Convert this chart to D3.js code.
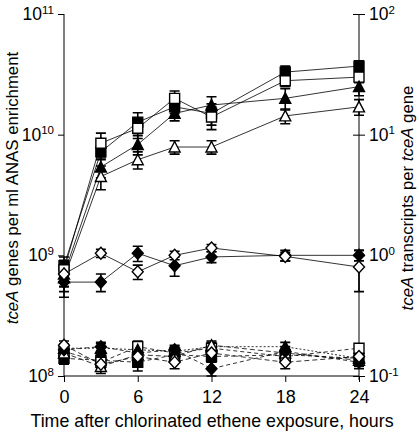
<!DOCTYPE html>
<html><head><meta charset="utf-8">
<script src="https://cdn.jsdelivr.net/npm/d3@7"></script>
<style>body{margin:0;background:#fff}svg{display:block}text{font-family:"Liberation Sans",Arial,sans-serif;fill:#000}</style>
</head><body><svg id="c" width="419" height="433"></svg>
<script>
// ---- data ----
const hours = [0, 3, 6, 9, 12, 18, 24];
const leftTicks = [1e8, 1e9, 1e10, 1e11];
const leftTickExp = ["8", "9", "10", "11"];
const rightTicks = [0.1, 1, 10, 100];
const rightTickExp = ["-1", "0", "1", "2"];
const xTicks = [0, 6, 12, 18, 24];

// tceA genes per ml (left axis)
const genesFilledSq  = [8.2e8, 7.2e9, 1.27e10, 1.7e10, 1.5e10, 3.3e10, 3.7e10];
const genesOpenSq    = [7.6e8, 8.5e9, 1.13e10, 2.0e10, 1.4e10, 2.8e10, 3.0e10];
const genesFilledTri = [7.0e8, 5.4e9, 8.3e9, 1.5e10, 1.76e10, 2.0e10, 2.5e10];
const genesOpenTri   = [6.5e8, 4.5e9, 6.2e9, 7.9e9, 7.9e9, 1.43e10, 1.7e10];
const errFilledSq  = [1.5e8, 1.0e9, 2.5e9, 2.0e9, 3.0e9, 4.0e9, 4.0e9];
const errOpenSq    = [1.5e8, 1.8e9, 2.0e9, 3.0e9, 3.0e9, 3.0e9, 3.0e9];
const errFilledTri = [1.5e8, 1.0e9, 1.5e9, 2.0e9, 3.0e9, 4.0e9, 4.0e9];
const errOpenTri   = [1.5e8, 1.0e9, 1.0e9, 1.0e9, 1.0e9, 2.0e9, 2.5e9];

// tceA transcripts per gene (right axis)
const transFilledDia = [0.60, 0.60, 1.04, 0.82, 0.97, 1.00, 1.00];
const transOpenDia   = [0.70, 1.04, 0.73, 1.00, 1.15, 0.98, 0.80];
const errFilledDia = [0.15, 0.10, 0.15, 0.15, 0.10, 0.10, 0.10];
const errOpenDia   = [0.15, 0.08, 0.10, 0.08, 0.08, 0.08, 0.30];

// controls (dashed, left axis)
const ctrlFilledSq  = [1.40e8, 1.35e8, 1.30e8, 1.50e8, 1.45e8, 1.50e8, 1.40e8];
const ctrlOpenSq    = [1.60e8, 1.30e8, 1.75e8, 1.55e8, 1.70e8, 1.45e8, 1.70e8];
const ctrlFilledTri = [1.70e8, 1.70e8, 1.65e8, 1.60e8, 1.75e8, 1.75e8, 1.40e8];
const ctrlOpenTri   = [1.55e8, 1.20e8, 1.50e8, 1.45e8, 1.80e8, 1.55e8, 1.35e8];
const ctrlFilledDia = [1.65e8, 1.75e8, 1.55e8, 1.65e8, 1.15e8, 1.60e8, 1.30e8];
const ctrlOpenDia   = [1.80e8, 1.25e8, 1.45e8, 1.30e8, 1.55e8, 1.30e8, 1.45e8];
const ctrlErr       = [1.5e7, 1.5e7, 2.0e7, 1.5e7, 1.5e7, 1.5e7, 1.5e7];

// ---- drawing ----
const svg = d3.select("#c");
const x = d3.scaleLinear().domain([0, 24]).range([64, 359]);
const yL = d3.scaleLog().domain([1e8, 1e11]).range([376, 14]);
const yR = d3.scaleLog().domain([0.1, 100]).range([376, 14]);

function supLabels(sel, exps) {
  sel.selectAll(".tick text").each(function(d, i) {
    const t = d3.select(this);
    t.text(null).style("font-size", "17.5px");
    t.append("tspan").text("10");
    t.append("tspan").attr("dy", "-0.55em").style("font-size", "11.5px").text(exps[i]);
  });
}

// left axis
const gL = svg.append("g").attr("transform", `translate(${x(0)},0)`)
  .call(d3.axisLeft(yL).tickValues(leftTicks).tickSize(6).tickPadding(4).tickFormat(() => ""));
gL.select(".domain").attr("d", `M0,${yL(1e11)}V${yL(1e8)}`);
supLabels(gL, leftTickExp);

// right axis
const gR = svg.append("g").attr("transform", `translate(${x(24)},0)`)
  .call(d3.axisRight(yR).tickValues(rightTicks).tickSize(6).tickPadding(4).tickFormat(() => ""));
gR.select(".domain").attr("d", `M0,${yR(100)}V${yR(0.1) + 4}`);
gR.selectAll(".tick line").attr("x1", -6);
supLabels(gR, rightTickExp);

// bottom axis
const gB = svg.append("g").attr("transform", `translate(0,${yL(1e8)})`)
  .call(d3.axisBottom(x).tickValues(xTicks).tickSize(6).tickPadding(8));
gB.select(".domain").attr("d", `M${x(0)},0H${x(24)}`);
gB.selectAll(".tick text").style("font-size", "18px");
svg.selectAll(".domain, .tick line").attr("stroke", "#000").attr("stroke-width", 1);

// axis titles
svg.append("text").attr("x", 212).attr("y", 427).attr("text-anchor", "middle")
  .style("font-size", "17.8px").text("Time after chlorinated ethene exposure, hours");
const tl = svg.append("text").attr("transform", "translate(18,188) rotate(-90)")
  .attr("text-anchor", "middle").style("font-size", "16.8px");
tl.append("tspan").style("font-style", "italic").text("tceA");
tl.append("tspan").text(" genes per ml ANAS enrichment");
const tr = svg.append("text").attr("transform", "translate(413,198) rotate(-90)")
  .attr("text-anchor", "middle").style("font-size", "16.8px");
tr.append("tspan").style("font-style", "italic").text("tceA");
tr.append("tspan").text(" transcripts per ");
tr.append("tspan").style("font-style", "italic").text("tceA");
tr.append("tspan").text(" gene");

// marker shapes
const shapes = {
  sq: "M-5,-5H5V5H-5Z",
  tri: "M0,-5.5L5.5,5H-5.5Z",
  dia: "M0,-6L5.5,0L0,6L-5.5,0Z"
};

const series = [
  {v: genesFilledSq, e: errFilledSq, y: yL, s: "sq", f: true, dash: null},
  {v: genesOpenSq, e: errOpenSq, y: yL, s: "sq", f: false, dash: null},
  {v: genesFilledTri, e: errFilledTri, y: yL, s: "tri", f: true, dash: null},
  {v: genesOpenTri, e: errOpenTri, y: yL, s: "tri", f: false, dash: null},
  {v: transFilledDia, e: errFilledDia, y: yR, s: "dia", f: true, dash: null},
  {v: transOpenDia, e: errOpenDia, y: yR, s: "dia", f: false, dash: null},
  {v: ctrlFilledSq, e: ctrlErr, y: yL, s: "sq", f: true, dash: "4,3"},
  {v: ctrlOpenSq, e: ctrlErr, y: yL, s: "sq", f: false, dash: "4,3"},
  {v: ctrlFilledTri, e: ctrlErr, y: yL, s: "tri", f: true, dash: "2,2"},
  {v: ctrlOpenTri, e: ctrlErr, y: yL, s: "tri", f: false, dash: "5,3"},
  {v: ctrlFilledDia, e: ctrlErr, y: yL, s: "dia", f: true, dash: "4,3"},
  {v: ctrlOpenDia, e: ctrlErr, y: yL, s: "dia", f: false, dash: "5,3"}
];

const gLines = svg.append("g"), gErr = svg.append("g"), gPts = svg.append("g");
series.forEach(sr => {
  const pts = hours.map((h, i) => ({h, v: sr.v[i], e: sr.e[i]}));
  gLines.append("path").datum(pts)
    .attr("d", d3.line().x(d => x(d.h)).y(d => sr.y(d.v)))
    .attr("fill", "none").attr("stroke", "#000").attr("stroke-width", 0.8)
    .attr("stroke-dasharray", sr.dash);
  pts.forEach(d => {
    const y1 = sr.y(d.v + d.e), y2 = sr.y(Math.max(d.v - d.e, d.v * 0.3));
    gErr.append("path")
      .attr("d", `M${x(d.h)},${y1}V${y2}M${x(d.h) - 5},${y1}h10M${x(d.h) - 5},${y2}h10`)
      .attr("stroke", "#000").attr("stroke-width", 1.6).attr("fill", "none");
  });
  gPts.selectAll(null).data(pts).enter().append("path")
    .attr("d", shapes[sr.s])
    .attr("transform", d => `translate(${x(d.h)},${sr.y(d.v)})`)
    .attr("fill", sr.f ? "#000" : "#fff").attr("stroke", "#000").attr("stroke-width", 1.4);
});
</script></body></html>
